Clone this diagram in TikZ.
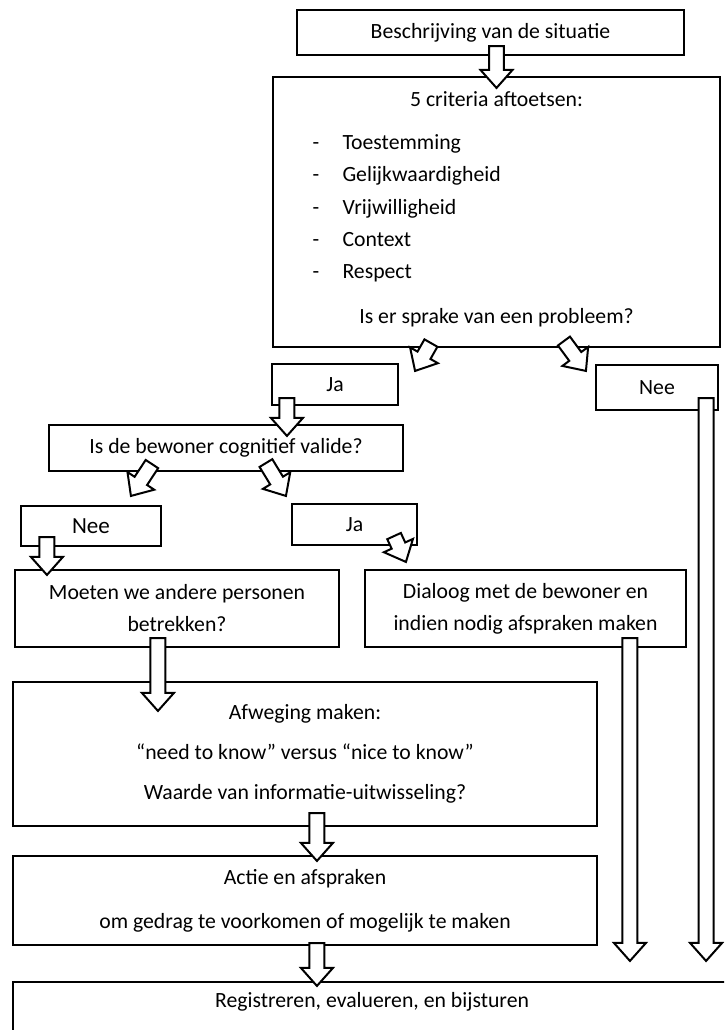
\documentclass[tikz,border=0pt]{standalone}
\usepackage{fontspec}
\setmainfont{Carlito}
\usetikzlibrary{calc}

\tikzset{every picture/.style={line width=0.75pt}}
\tikzset{
  flowbox/.style={draw=black, line width=1.6pt, inner sep=0pt, align=center, font=\fontsize{16.3}{24}\selectfont},
  flowtext/.style={inner sep=0pt, font=\fontsize{16.3}{24}\selectfont},
  hollowarrow/.style={draw=black, fill=white, line width=1.5pt, line join=miter},
}

% open block arrow: #1 = tail, #2 = tip
\newcommand{\blockarrow}[2]{%
  \coordinate (ba-s) at #1;
  \coordinate (ba-t) at #2;
  \coordinate (ba-h) at ($(ba-t)!13.5pt!(ba-s)$);
  \draw[hollowarrow] ($(ba-s)!5.6pt!90:(ba-t)$) -- ($(ba-h)!5.6pt!-90:(ba-s)$)
    -- ($(ba-h)!12pt!-90:(ba-s)$) -- (ba-t) -- ($(ba-h)!12pt!90:(ba-s)$)
    -- ($(ba-h)!5.6pt!90:(ba-s)$) -- ($(ba-s)!5.6pt!-90:(ba-t)$) -- cycle;
}

\begin{document}
\begin{tikzpicture}[x=0.75pt,y=0.75pt,yscale=-1,xscale=1]
\useasboundingbox (0,0) rectangle (724,1030);
\clip (0,0) rectangle (724,1030);

%Shape: Rectangle
\node[flowbox, minimum width=290.25pt, minimum height=33.75pt] (sit) at (490.5,32.5) {Beschrijving van de situatie};
%Shape: Rectangle
\node[flowbox, minimum width=335.25pt, minimum height=202.5pt] (crit) at (496.5,212) {};
% Text Node
\node[flowtext, anchor=base] (crit-t) at (496.5,107) {5 criteria aftoetsen:};
% Text Node
\node[flowtext, anchor=base west] (d1) at (312,150) {-};
\node[flowtext, anchor=base west] (c1) at (342,150) {Toestemming};
\node[flowtext, anchor=base west] (d2) at (312,182) {-};
\node[flowtext, anchor=base west] (c2) at (342,182) {Gelijkwaardigheid};
\node[flowtext, anchor=base west] (d3) at (312,215) {-};
\node[flowtext, anchor=base west] (c3) at (342,215) {Vrijwilligheid};
\node[flowtext, anchor=base west] (d4) at (312,247) {-};
\node[flowtext, anchor=base west] (c4) at (342,247) {Context};
\node[flowtext, anchor=base west] (d5) at (312,279) {-};
\node[flowtext, anchor=base west] (c5) at (342,279) {Respect};
% Text Node
\node[flowtext, anchor=base] (crit-q) at (496.5,323) {Is er sprake van een probleem?};

%Shape: Rectangle
\node[flowbox, minimum width=94.5pt, minimum height=30.75pt] (ja1) at (335,384.5) {Ja};
%Shape: Rectangle
\node[flowbox, minimum width=91.5pt, minimum height=33.75pt] (nee1) at (657,387.5) {Nee};
%Shape: Rectangle
\node[flowbox, minimum width=265.5pt, minimum height=34.5pt] (cogn) at (226,448) {Is de bewoner cognitief valide?};
%Shape: Rectangle
\node[flowbox, font=\fontsize{17.3}{24}\selectfont, minimum width=105pt, minimum height=30pt] (nee2) at (91,526) {Nee};
%Shape: Rectangle
\node[flowbox, minimum width=93.75pt, minimum height=30.75pt] (ja2) at (354.5,524.5) {Ja};
%Shape: Rectangle
\node[flowbox, minimum width=243pt, minimum height=57.75pt] (moet) at (177,608.5) {Moeten we andere personen\\betrekken?};
%Shape: Rectangle
\node[flowbox, minimum width=240.75pt, minimum height=57.75pt] (dial) at (525.5,608.5) {Dialoog met de bewoner en\\indien nodig afspraken maken};
%Shape: Rectangle
\node[flowbox, font=\fontsize{16.3}{30}\selectfont, minimum width=438pt, minimum height=108pt] (afw) at (305,754) {Afweging maken:\\“need to know” versus “nice to know”\\Waarde van informatie-uitwisseling?};
%Shape: Rectangle
\node[flowbox, font=\fontsize{16.3}{33}\selectfont, minimum width=438pt, minimum height=66.75pt] (actie) at (305,900.5) {Actie en afspraken\\om gedrag te voorkomen of mogelijk te maken};
%Shape: Rectangle
\node[flowbox, minimum width=538.5pt, minimum height=58.5pt] (reg) at (372,1021) {};
% Text Node
\node[flowtext] (reg-t) at ($(reg.north)+(0,21)$) {Registreren, evalueren, en bijsturen};

%Block Arrows
\blockarrow{($(crit.north |- sit.south)+(0,-10)$)}{($(crit.north)+(0,12)$)}
\blockarrow{($(crit.south west)+(159,-5)$)}{($(ja1.north east)+(16,8)$)}
\blockarrow{($(crit.south west)+(292,-7)$)}{($(nee1.north west)+(-9,7)$)}
\blockarrow{($(ja1.south west)+(16,-8)$)}{($(ja1.south west |- cogn.north)+(16,12)$)}
\blockarrow{($(nee1.south east)+(-13,-13)$)}{($(nee1.south east |- reg.north)+(-13,-20)$)}
\blockarrow{($(cogn.south west)+(104,-8)$)}{($(nee2.north west)+(111,-9)$)}
\blockarrow{($(cogn.south west)+(218,-9)$)}{($(ja2.north west)+(-5,-7)$)}
\blockarrow{($(nee2.south west)+(27,-10)$)}{($(moet.north west)+(33,6)$)}
\blockarrow{($(ja2.south east)+(-24,-10)$)}{($(dial.north west)+(42,-7)$)}
\blockarrow{($(moet.south west)+(144,-10)$)}{($(afw.north west)+(146,30)$)}
\blockarrow{($(dial.south west)+(266,-10)$)}{($(dial.south west |- reg.north)+(266,-20)$)}
\blockarrow{($(afw.south west)+(305,-14)$)}{($(actie.north west)+(305,6)$)}
\blockarrow{($(actie.south west)+(305,-3)$)}{($(reg.north west)+(305,5)$)}

\end{tikzpicture}
\end{document}
